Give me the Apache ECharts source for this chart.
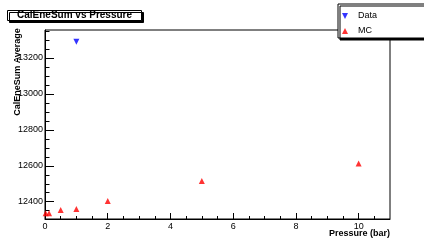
<!DOCTYPE html>
<html>
<head>
    <meta charset="utf-8">
    <title>CalEneSum vs Pressure</title>
    <style>
        html,body{width:100%;height:100%;margin:0;padding:0;overflow:hidden;background:#fff;}
        #main{width:424px;height:240px;}
    </style>
    <script src="https://cdn.jsdelivr.net/npm/echarts/dist/echarts.min.js"></script>
</head>
<body>
<div id="main"></div>
<script type="text/javascript">
    // values
    var dataPressure = [1];
    var dataValues = [13290];
    var mcPressure = [0.02, 0.13, 0.5, 1, 2, 5, 10];
    var mcValues = [12336, 12336, 12354, 12359, 12404, 12515, 12613];

    // axis ticks
    var xMajorTicks = [0, 2, 4, 6, 8, 10];
    var xMinorTicks = [0.5, 1, 1.5, 2.5, 3, 3.5, 4.5, 5, 5.5, 6.5, 7, 7.5, 8.5, 9, 9.5, 10.5];
    var yMajorTicks = [12400, 12600, 12800, 13000, 13200];
    var yMinorTicks = [12350, 12450, 12500, 12550, 12650, 12700, 12750, 12850, 12900, 12950,
                       13050, 13100, 13150, 13250, 13300, 13350];

    var FONT = 'Liberation Sans';
    var xMin = 0, xMax = 11;
    var yMin = 12304, yMax = 13355;

    function zip(xs, ys) {
        return xs.map(function (x, i) { return [x, ys[i]]; });
    }

    var myChart = echarts.init(document.getElementById('main'), null, {renderer: 'canvas'});

    var option = {
        animation: false,
        backgroundColor: '#fff',
        title: {
            text: 'CalEneSum vs Pressure',
            left: 7, top: 10,
            padding: [0, 10],
            backgroundColor: '#fff',
            borderColor: '#000', borderWidth: 1,
            shadowColor: '#000', shadowOffsetX: 2, shadowOffsetY: 2, shadowBlur: 0,
            textStyle: {fontFamily: FONT, fontSize: 10, fontWeight: 'bold', color: '#000', lineHeight: 11}
        },
        legend: {
            orient: 'vertical',
            left: 338, top: 4,
            padding: [6, 80, 1, 4],
            itemGap: 3,
            itemWidth: 16, itemHeight: 6,
            backgroundColor: '#fff',
            borderColor: '#000', borderWidth: 1,
            shadowColor: '#000', shadowOffsetX: 2, shadowOffsetY: 2, shadowBlur: 0,
            textStyle: {fontFamily: FONT, fontSize: 9, color: '#000', lineHeight: 12},
            data: [
                {name: 'Data', icon: 'path://M0,0L10,0L5,10Z'},
                {name: 'MC', icon: 'path://M5,0L10,10L0,10Z'}
            ]
        },
        grid: {
            left: 45, right: 34, top: 30, bottom: 21,
            show: true, borderColor: '#000', borderWidth: 1, backgroundColor: 'transparent'
        },
        xAxis: [{
            type: 'value', position: 'bottom',
            min: xMin, max: xMax,
            axisLine: {lineStyle: {color: '#000', width: 1}},
            axisTick: {inside: true, length: 6, customValues: xMajorTicks, lineStyle: {color: '#000'}},
            axisLabel: {customValues: xMajorTicks, margin: 3, fontFamily: FONT, fontSize: 9, color: '#000',
                        formatter: function (v) { return String(v); }},
            splitLine: {show: false}
        }, {
            type: 'value', position: 'bottom',
            min: xMin, max: xMax,
            axisLine: {show: false},
            axisTick: {inside: true, length: 3, customValues: xMinorTicks, lineStyle: {color: '#000'}},
            axisLabel: {show: false},
            splitLine: {show: false}
        }],
        yAxis: [{
            type: 'value', position: 'left',
            min: yMin, max: yMax,
            axisLine: {show: true, lineStyle: {color: '#000', width: 1}},
            axisTick: {show: true, inside: true, length: 9, customValues: yMajorTicks, lineStyle: {color: '#000'}},
            axisLabel: {customValues: yMajorTicks, margin: 2, fontFamily: FONT, fontSize: 9, color: '#000',
                        formatter: function (v) { return String(v); }},
            splitLine: {show: false}
        }, {
            type: 'value', position: 'left',
            min: yMin, max: yMax,
            axisLine: {show: false},
            axisTick: {show: true, inside: true, length: 4.5, customValues: yMinorTicks, lineStyle: {color: '#000'}},
            axisLabel: {show: false},
            splitLine: {show: false}
        }],
        graphic: [{
            type: 'text', x: 18, y: 72, rotation: Math.PI / 2,
            style: {text: 'CalEneSum Average', fontFamily: FONT, fontSize: 9, fontWeight: 'bold',
                    fill: '#000', align: 'center', verticalAlign: 'middle'}
        }, {
            type: 'text', x: 390, y: 234,
            style: {text: 'Pressure (bar)', fontFamily: FONT, fontSize: 9, fontWeight: 'bold',
                    fill: '#000', align: 'right', verticalAlign: 'middle'}
        }],
        series: [{
            name: 'Data', type: 'scatter',
            xAxisIndex: 0, yAxisIndex: 0,
            symbol: 'triangle', symbolRotate: 180, symbolSize: 6,
            itemStyle: {color: '#0000ff'},
            data: zip(dataPressure, dataValues)
        }, {
            name: 'MC', type: 'scatter',
            xAxisIndex: 0, yAxisIndex: 0,
            symbol: 'triangle', symbolSize: 6,
            itemStyle: {color: '#ff0000'},
            data: zip(mcPressure, mcValues)
        }]
    };

    myChart.setOption(option);
</script>
</body>
</html>
